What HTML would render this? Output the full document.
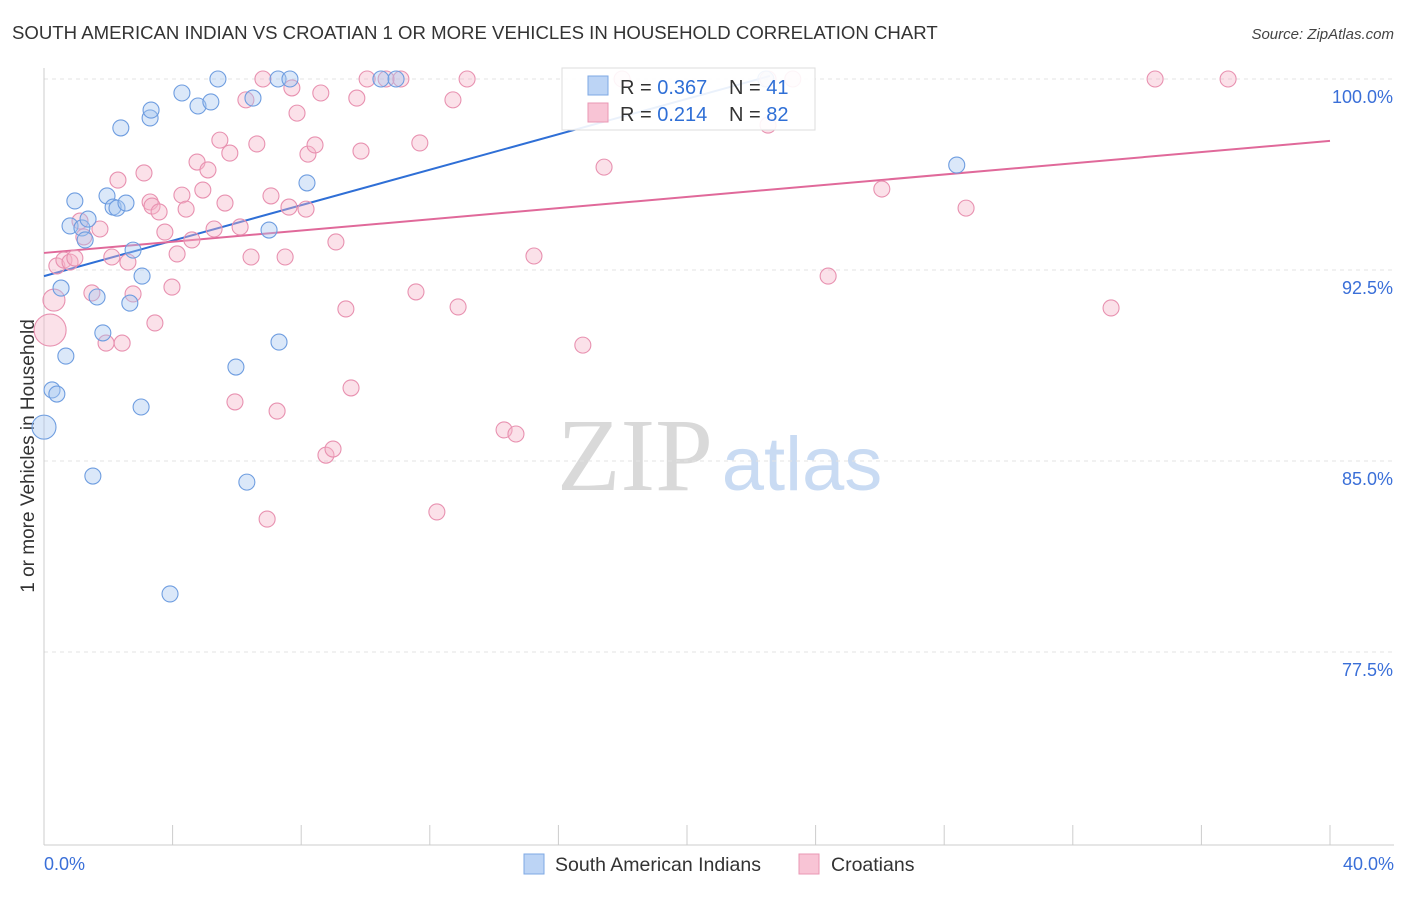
<!DOCTYPE html>
<html><head><meta charset="utf-8"><style>
body{margin:0;background:#fff;font-family:"Liberation Sans",sans-serif;}
svg text{font-family:"Liberation Sans",sans-serif;}
</style></head><body>
<svg id="chart" width="1406" height="892" viewBox="0 0 1406 892" xmlns="http://www.w3.org/2000/svg">
<text x="12" y="39" font-size="18.6" fill="#333">SOUTH AMERICAN INDIAN VS CROATIAN 1 OR MORE VEHICLES IN HOUSEHOLD CORRELATION CHART</text>
<text x="1394" y="39" font-size="15" fill="#444" text-anchor="end" font-style="italic">Source: ZipAtlas.com</text>
<text transform="translate(34,456) rotate(-90)" font-size="19" fill="#333" text-anchor="middle">1 or more Vehicles in Household</text>
<g>
<text x="635" y="490" font-size="104" fill="#d9d9d9" text-anchor="middle" style="font-family:'Liberation Serif',serif">ZIP</text>
<text x="802" y="490" font-size="76" fill="#c9dbf3" text-anchor="middle">atlas</text>
</g>
<g id="grid"></g><g id="axes"></g><g id="lines"></g><g id="points"></g>
<g>
<rect x="562" y="68" width="253" height="62" fill="#fff" fill-opacity="0.9" stroke="#ddd"/>
<rect x="588" y="76" width="20" height="19" fill="#bcd4f5" stroke="#7ea8e4"/>
<text x="620" y="94" font-size="20" fill="#333">R = <tspan fill="#2f6fd6">0.367</tspan></text>
<text x="729" y="94" font-size="20" fill="#333">N = <tspan fill="#2f6fd6">41</tspan></text>
<rect x="588" y="103" width="20" height="19" fill="#f8c4d5" stroke="#ea97b4"/>
<text x="620" y="121" font-size="20" fill="#333">R = <tspan fill="#2f6fd6">0.214</tspan></text>
<text x="729" y="121" font-size="20" fill="#333">N = <tspan fill="#2f6fd6">82</tspan></text>
</g>
<g>
<rect x="524" y="854" width="20" height="20" fill="#bcd4f5" stroke="#7ea8e4"/>
<text x="555" y="871" font-size="19.5" fill="#333">South American Indians</text>
<rect x="799" y="854" width="20" height="20" fill="#f8c4d5" stroke="#ea97b4"/>
<text x="831" y="871" font-size="19.5" fill="#333">Croatians</text>
</g>
</svg>
<script>
const yTicks=[100,92.5,85,77.5];
const yTickLabels=["100.0%","92.5%","85.0%","77.5%"];
const xTicks=[0,4,8,12,16,20,24,28,32,36,40];
const blueX=[0,.25,.40,.68,.53,.96,.81,1.18,1.28,1.37,1.65,1.83,1.52,1.96,2.15,2.27,2.39,2.55,2.77,3.05,2.67,3.02,3.30,3.33,3.92,4.29,4.79,5.19,5.41,5.97,6.31,6.50,7.00,7.28,7.31,7.65,8.18,10.48,10.95,28.39,22.45];
const blueY=[86.33,87.79,87.63,89.12,91.79,95.21,94.23,94.15,93.68,94.50,91.44,90.03,84.41,95.41,94.97,94.93,98.08,95.13,93.28,92.26,91.20,87.12,98.47,98.78,79.78,99.45,98.94,99.10,100,88.69,84.17,99.25,94.07,100,89.67,100,95.92,100,100,96.62,100];
const pinkX=[.19,.31,.40,.62,.81,.96,1.12,1.24,1.49,1.74,1.93,2.11,2.30,2.43,2.61,2.77,3.11,3.30,3.36,3.45,3.58,3.76,3.98,4.14,4.29,4.42,4.60,4.76,4.94,5.10,5.29,5.47,5.63,5.78,5.94,6.10,6.28,6.44,6.62,6.94,6.81,7.06,7.25,7.50,7.62,7.71,7.87,8.15,8.21,8.43,8.61,8.77,8.99,9.08,9.39,9.55,9.73,9.86,10.05,10.64,11.10,11.57,11.69,12.22,12.72,12.88,13.16,14.31,14.68,15.24,16.76,17.42,17.98,22.52,22.52,23.29,24.39,26.06,28.68,33.19,34.56,36.83];
const pinkY=[90.14,91.32,92.66,92.89,92.81,92.97,94.42,93.80,91.60,94.11,89.63,93.01,96.03,89.63,92.81,91.56,96.31,95.17,95.01,90.42,94.78,93.99,91.83,93.13,95.44,94.89,93.68,96.74,95.64,96.43,94.11,97.60,95.13,97.09,87.32,94.19,99.18,93.01,97.45,82.72,100,95.41,86.96,93.01,94.97,99.65,98.66,94.89,97.05,97.41,99.45,85.23,85.47,93.60,90.97,87.87,99.25,97.17,100,100,100,91.64,97.49,83.00,99.18,91.05,100,86.22,86.06,93.05,89.55,96.54,100,98.19,100,100,92.26,95.68,94.93,91.01,100,100];
const blueLine=[[0,92.26],[22.58,100.12]];
const pinkLine=[[0,93.17],[40,97.57]];
const NS="http://www.w3.org/2000/svg";
const X=v=>44+v/40*1286, Y=v=>79+(100-v)/7.5*191;
function mk(t,a,p){const e=document.createElementNS(NS,t);for(const k in a)e.setAttribute(k,a[k]);p.appendChild(e);return e;}
const grid=document.getElementById('grid'),axes=document.getElementById('axes'),lines=document.getElementById('lines'),pts=document.getElementById('points');
yTicks.forEach((t,i)=>{
 const l=mk('line',{x1:44,x2:1394,y1:Y(t),y2:Y(t),stroke:'#e3e3e3','stroke-dasharray':'4,4'},grid);
 
 
 const tx=mk('text',{x:1393,y:Y(t)+24,'font-size':18,fill:'#3a6fd8','text-anchor':'end'},axes);
 tx.textContent=yTickLabels[i];
 
 
});
const ax=mk('line',{x1:44,x2:44,y1:68,y2:845,stroke:'#ccc'},axes);


const bx=mk('line',{x1:44,x2:1394,y1:845,y2:845,stroke:'#ccc'},axes);


xTicks.forEach(t=>{
 const l=mk('line',{x1:X(t),x2:X(t),y1:825,y2:845,stroke:'#ccc'},axes);
 
 
});
[[0,"0.0%","start",44],[40,"40.0%","end",1394]].forEach(d=>{
 const tx=mk('text',{x:d[3],y:870,'font-size':18,fill:'#3a6fd8','text-anchor':d[2]},axes);
 tx.textContent=d[1];
 
 
});
function drawPts(xs,ys,fill,stroke,name){
 xs.forEach((x,i)=>{
  let r=8; if(name==='blue-point'&&i===0)r=12; if(name==='pink-point'&&i===0)r=16; if(name==='pink-point'&&i===1)r=11;
  const c=mk('circle',{cx:X(x),cy:Y(ys[i]),r:r,fill:fill,'fill-opacity':0.4,stroke:stroke,'stroke-width':1.1},pts);
  
  
 });
}
drawPts(pinkX,pinkY,'#f5b3c8','#e891b0','pink-point');
drawPts(blueX,blueY,'#a6c6f0','#6e9de0','blue-point');
const bl=mk('line',{x1:X(blueLine[0][0]),y1:Y(blueLine[0][1]),x2:X(blueLine[1][0]),y2:Y(blueLine[1][1]),stroke:'#2f6fd6','stroke-width':2},lines);


const pl=mk('line',{x1:X(pinkLine[0][0]),y1:Y(pinkLine[0][1]),x2:X(pinkLine[1][0]),y2:Y(pinkLine[1][1]),stroke:'#e0699a','stroke-width':2},lines);


</script>
</body></html>
